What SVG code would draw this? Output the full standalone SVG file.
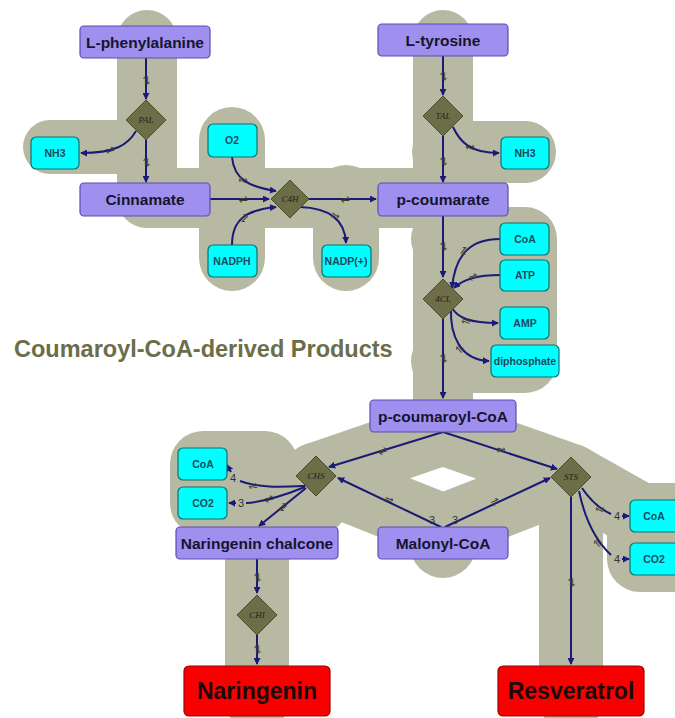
<svg xmlns="http://www.w3.org/2000/svg" width="675" height="718" viewBox="0 0 675 718">
<defs>
<style>
.bg{fill:none;stroke:#B8B9A3;stroke-linecap:round;stroke-linejoin:round}
.bgf{fill:#B8B9A3}
.sp rect{fill:#9F8FEF;stroke:#5B4CB0;stroke-width:1.2}
.sp text{font-family:"Liberation Sans",Arial,sans-serif;font-weight:bold;font-size:15.5px;fill:#15152e;text-anchor:middle}
.fin rect{fill:#F80000;stroke:#A00000;stroke-width:1.2}
.fin text{font-family:"Liberation Sans",Arial,sans-serif;font-weight:bold;font-size:23px;fill:#1a0a0a;text-anchor:middle}
.sm rect{fill:#00FFFF;stroke:#0A7070;stroke-width:1.2}
.sm text{font-family:"Liberation Sans",Arial,sans-serif;font-weight:bold;font-size:10.5px;fill:#1d4a5e;text-anchor:middle}
.rx polygon{fill:#6B6E47;stroke:#4A4C2E;stroke-width:1}
.rx text{font-family:"Liberation Serif","Times New Roman",serif;font-style:italic;font-size:9px;fill:#222;text-anchor:middle}
.cn{fill:none;stroke:#1A1A78;stroke-width:2}
.hp{font-family:"DejaVu Sans",sans-serif;font-size:11px;fill:#3a3a3a;text-anchor:middle}
.st{font-family:"Liberation Sans",Arial,sans-serif;font-size:11px;fill:#333;text-anchor:middle}
.title{font-family:"Liberation Sans",Arial,sans-serif;font-weight:bold;font-size:23.5px;fill:#6B6E48}
</style>
<marker id="ah" viewBox="0 0 8 8" refX="7" refY="4" markerWidth="7" markerHeight="7" markerUnits="userSpaceOnUse" orient="auto">
<path d="M0,0 L8,4 L0,8 z" fill="#1A1A78"/>
</marker>
</defs>

<g id="background">
<path class="bg" stroke-width="60" d="M147,40 V198 H443"/>
<path class="bg" stroke-width="54" d="M146,147 H50"/>
<path class="bg" stroke-width="66" d="M232,140 V258 M346,198 V258"/>
<path class="bg" stroke-width="60" d="M443,40 V416"/>
<path class="bg" stroke-width="62" d="M443,152 H525"/>
<path class="bg" stroke-width="64" d="M443,239 H525 V361 H443"/>
<rect class="bgf" x="443" y="239" width="82" height="122"/>
<path class="bg" stroke-width="66" d="M443,432 L315,476 L443,527 L571,477 Z"/>
<path class="bg" stroke-width="66" d="M443,527 V545"/>
<path class="bg" stroke-width="66" d="M203,464 V503 H315 M203,464 H265 M315,476 L257,543"/>
<path class="bg" stroke-width="64" d="M257,543 V700"/>
<path class="bg" stroke-width="64" d="M571,477 V700"/>
<path class="bg" stroke-width="66" d="M571,477 L640,516 V559 H700 M640,516 H700"/>
</g>

<text class="title" x="14" y="357">Coumaroyl-CoA-derived Products</text>

<g id="connectors">
<path class="cn" marker-end="url(#ah)" d="M146,58 V99"/>
<path class="cn" marker-end="url(#ah)" d="M146,140 V182"/>
<path class="cn" marker-end="url(#ah)" d="M136,131 C128,145 115,153 81,153"/>
<path class="cn" marker-end="url(#ah)" d="M443,56 V95"/>
<path class="cn" marker-end="url(#ah)" d="M443,136 V182"/>
<path class="cn" marker-end="url(#ah)" d="M453,127 C460,142 470,153 499,153"/>
<path class="cn" marker-end="url(#ah)" d="M210,199 H269"/>
<path class="cn" marker-end="url(#ah)" d="M232,157 C234,180 250,187 276,191"/>
<path class="cn" marker-end="url(#ah)" d="M232,245 C232,218 248,210 276,207"/>
<path class="cn" marker-end="url(#ah)" d="M309,199 H376"/>
<path class="cn" marker-end="url(#ah)" d="M300,207 C330,208 345,220 346,243"/>
<path class="cn" marker-end="url(#ah)" d="M443,216 V277"/>
<path class="cn" marker-end="url(#ah)" d="M500,239 C470,239 455,255 452,288"/>
<path class="cn" marker-end="url(#ah)" d="M500,275 C475,275 462,280 454,288"/>
<path class="cn" marker-end="url(#ah)" d="M452,308 C458,318 470,323 498,323"/>
<path class="cn" marker-end="url(#ah)" d="M451,309 C450,335 460,360 489,361"/>
<path class="cn" marker-end="url(#ah)" d="M443,319 V398"/>
<path class="cn" marker-end="url(#ah)" d="M443,432 L329,467"/>
<path class="cn" marker-end="url(#ah)" d="M443,432 L557,469"/>
<path class="cn" marker-end="url(#ah)" d="M441,527 L338,478"/>
<path class="cn" marker-end="url(#ah)" d="M445,527 L550,478"/>
<path class="cn" d="M305,486 C280,487 258,488 240,481"/>
<path class="cn" marker-end="url(#ah)" d="M231,472 L227,465"/>
<path class="cn" d="M305,487 C285,495 265,502 246,503"/>
<path class="cn" marker-end="url(#ah)" d="M236,503 L229,503"/>
<path class="cn" marker-end="url(#ah)" d="M306,488 L259,526"/>
<path class="cn" marker-end="url(#ah)" d="M257,559 V593"/>
<path class="cn" marker-end="url(#ah)" d="M257,635 V664"/>
<path class="cn" marker-end="url(#ah)" d="M571,497 V664"/>
<path class="cn" d="M582,488 C590,500 598,508 611,514"/>
<path class="cn" marker-end="url(#ah)" d="M622,516 L629,516"/>
<path class="cn" d="M579,491 C585,520 595,540 611,555"/>
<path class="cn" marker-end="url(#ah)" d="M622,559 L629,559"/>

<g class="hp">
<text transform="translate(146,80) rotate(90)" y="3.5">⇌</text>
<text transform="translate(146,162) rotate(90)" y="3.5">⇌</text>
<text transform="translate(110,150) rotate(-12)" y="3.5">⇌</text>
<text transform="translate(443,76) rotate(90)" y="3.5">⇌</text>
<text transform="translate(443,161) rotate(90)" y="3.5">⇌</text>
<text transform="translate(470,147) rotate(22)" y="3.5">⇌</text>
<text transform="translate(243,199)" y="3.5">⇌</text>
<text transform="translate(243,180) rotate(30)" y="3.5">⇌</text>
<text transform="translate(244,218) rotate(-40)" y="3.5">⇌</text>
<text transform="translate(345,199)" y="3.5">⇌</text>
<text transform="translate(335,216) rotate(35)" y="3.5">⇌</text>
<text transform="translate(443,246) rotate(90)" y="3.5">⇌</text>
<text transform="translate(464,251) rotate(-50)" y="3.5">⇌</text>
<text transform="translate(473,277) rotate(-18)" y="3.5">⇌</text>
<text transform="translate(466,321) rotate(20)" y="3.5">⇌</text>
<text transform="translate(460,349) rotate(50)" y="3.5">⇌</text>
<text transform="translate(443,358) rotate(90)" y="3.5">⇌</text>
<text transform="translate(383,451) rotate(-17)" y="3.5">⇌</text>
<text transform="translate(501,450) rotate(18)" y="3.5">⇌</text>
<text transform="translate(389,500) rotate(25)" y="3.5">⇌</text>
<text transform="translate(495,502) rotate(-25)" y="3.5">⇌</text>
<text transform="translate(253,486) rotate(8)" y="3.5">⇌</text>
<text transform="translate(269,499) rotate(-15)" y="3.5">⇌</text>
<text transform="translate(283,507) rotate(-40)" y="3.5">⇌</text>
<text transform="translate(257,577) rotate(90)" y="3.5">⇌</text>
<text transform="translate(257,649) rotate(90)" y="3.5">⇌</text>
<text transform="translate(571,582) rotate(90)" y="3.5">⇌</text>
<text transform="translate(600,509) rotate(30)" y="3.5">⇌</text>
<text transform="translate(598,543) rotate(50)" y="3.5">⇌</text>
</g>
<g class="st">
<text x="233" y="482">4</text>
<text x="241" y="507">3</text>
<text x="432" y="524">3</text>
<text x="455" y="524">3</text>
<text x="617" y="520">4</text>
<text x="617" y="563">4</text>
</g>
</g>

<g id="n-lphe" class="sp"><rect x="80" y="26" width="130" height="32" rx="4"/><text x="145" y="47.5">L-phenylalanine</text></g>
<g id="n-ltyr" class="sp"><rect x="378" y="24" width="130" height="32" rx="4"/><text x="443" y="45.5">L-tyrosine</text></g>
<g id="n-cinn" class="sp"><rect x="80" y="183" width="130" height="33" rx="4"/><text x="145" y="205">Cinnamate</text></g>
<g id="n-pcoum" class="sp"><rect x="378" y="183" width="130" height="33" rx="4"/><text x="443" y="205">p-coumarate</text></g>
<g id="n-pcoa" class="sp"><rect x="370" y="400" width="146" height="32" rx="4"/><text x="443" y="421.5">p-coumaroyl-CoA</text></g>
<g id="n-mal" class="sp"><rect x="378" y="527" width="130" height="32" rx="4"/><text x="443" y="548.5">Malonyl-CoA</text></g>
<g id="n-chal" class="sp"><rect x="176" y="527" width="162" height="32" rx="4"/><text x="257" y="548.5">Naringenin chalcone</text></g>
<g id="n-nar" class="fin"><rect x="184" y="666" width="146" height="50" rx="5"/><text x="257" y="699">Naringenin</text></g>
<g id="n-res" class="fin"><rect x="498" y="666" width="146" height="50" rx="5"/><text x="571" y="699">Resveratrol</text></g>

<g id="n-nh3a" class="sm"><rect x="31" y="137" width="48" height="32" rx="5"/><text x="55" y="157">NH3</text></g>
<g id="n-o2" class="sm"><rect x="208" y="124" width="49" height="33" rx="5"/><text x="232" y="144">O2</text></g>
<g id="n-nadph" class="sm"><rect x="208" y="245" width="49" height="32" rx="5"/><text x="232" y="265">NADPH</text></g>
<g id="n-nadp" class="sm"><rect x="322" y="245" width="49" height="32" rx="5"/><text x="346" y="265">NADP(+)</text></g>
<g id="n-nh3b" class="sm"><rect x="501" y="137" width="48" height="32" rx="5"/><text x="525" y="157">NH3</text></g>
<g id="n-coa1" class="sm"><rect x="500" y="223" width="49" height="32" rx="5"/><text x="525" y="243">CoA</text></g>
<g id="n-atp" class="sm"><rect x="500" y="260" width="49" height="31" rx="5"/><text x="525" y="279">ATP</text></g>
<g id="n-amp" class="sm"><rect x="500" y="307" width="49" height="32" rx="5"/><text x="525" y="327">AMP</text></g>
<g id="n-dip" class="sm"><rect x="491" y="345" width="68" height="32" rx="5"/><text x="525" y="365">diphosphate</text></g>
<g id="n-coa2" class="sm"><rect x="178" y="448" width="49" height="32" rx="5"/><text x="203" y="468">CoA</text></g>
<g id="n-co2a" class="sm"><rect x="178" y="487" width="49" height="32" rx="5"/><text x="203" y="507">CO2</text></g>
<g id="n-coa3" class="sm"><rect x="630" y="500" width="49" height="32" rx="5"/><text x="654" y="520">CoA</text></g>
<g id="n-co2b" class="sm"><rect x="630" y="543" width="49" height="32" rx="5"/><text x="654" y="563">CO2</text></g>

<g id="r-pal" class="rx"><polygon points="146,100 166,120 146,140 126,120"/><text x="146" y="123">PAL</text></g>
<g id="r-tal" class="rx"><polygon points="443,96 463,116 443,136 423,116"/><text x="443" y="119">TAL</text></g>
<g id="r-c4h" class="rx"><polygon points="290,180 309,199 290,218 271,199"/><text x="290" y="202">C4H</text></g>
<g id="r-4cl" class="rx"><polygon points="443,279 463,299 443,319 423,299"/><text x="443" y="302">4CL</text></g>
<g id="r-chs" class="rx"><polygon points="316,456 336,476 316,496 296,476"/><text x="316" y="479">CHS</text></g>
<g id="r-sts" class="rx"><polygon points="571,457 591,477 571,497 551,477"/><text x="571" y="480">STS</text></g>
<g id="r-chi" class="rx"><polygon points="257,595 277,615 257,635 237,615"/><text x="257" y="618">CHI</text></g>
</svg>
